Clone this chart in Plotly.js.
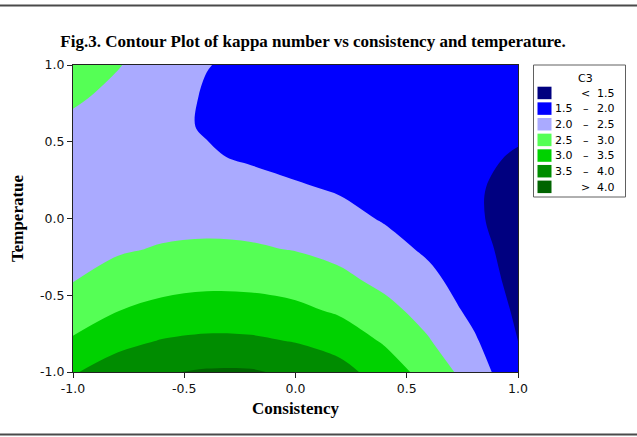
<!DOCTYPE html>
<html>
<head>
<meta charset="utf-8">
<script src="https://cdn.plot.ly/plotly-3.0.1.min.js"></script>
<style>
  html, body { margin: 0; padding: 0; background: #ffffff; }
  #chart { width: 637px; height: 437px; }
</style>
</head>
<body>
<div id="chart"></div>
<script>
// Coded factor levels
const consistency = [-1.0, -0.8, -0.6, -0.4, -0.2, 0.0, 0.2, 0.4, 0.6, 0.8, 1.0];
const temperature = [-1.0, -0.8, -0.6, -0.4, -0.2, 0.0, 0.2, 0.4, 0.6, 0.8, 1.0];

// Kappa number (C3); one row per temperature level, one column per consistency level
const kappa = [
  [3.46, 3.74, 3.96, 4.05, 4.05, 3.90, 3.67, 3.27, 2.80, 2.27, 1.61],
  [3.06, 3.36, 3.53, 3.60, 3.58, 3.48, 3.30, 2.95, 2.53, 2.07, 1.50],
  [2.73, 2.99, 3.14, 3.21, 3.20, 3.11, 2.93, 2.64, 2.32, 1.88, 1.42],
  [2.48, 2.71, 2.82, 2.875, 2.86, 2.785, 2.61, 2.38, 2.12, 1.74, 1.36],
  [2.30, 2.44, 2.54, 2.58, 2.55, 2.48, 2.36, 2.17, 1.92, 1.63, 1.35],
  [2.21, 2.30, 2.33, 2.35, 2.34, 2.27, 2.145, 1.96, 1.80, 1.55, 1.36],
  [2.19, 2.20, 2.19, 2.19, 2.14, 2.05, 1.95, 1.83, 1.72, 1.535, 1.41],
  [2.25, 2.18, 2.11, 2.04, 1.95, 1.85, 1.77, 1.71, 1.63, 1.555, 1.475],
  [2.38, 2.22, 2.09, 1.97, 1.88, 1.79, 1.72, 1.66, 1.61, 1.59, 1.55],
  [2.59, 2.37, 2.14, 1.97, 1.90, 1.82, 1.76, 1.71, 1.67, 1.65, 1.64],
  [2.82, 2.53, 2.25, 2.01, 1.93, 1.86, 1.80, 1.76, 1.73, 1.72, 1.74]
];

// Contour bands (lowest to highest) and their key labels
const bandColors = ['#000080', '#0000ff', '#aaaaff', '#55ff55', '#00d200', '#008c00', '#006400'];
const bandLow  = ['',  '1.5', '2.0', '2.5', '3.0', '3.5', ''];
const bandSign = ['<', '\u2013', '\u2013', '\u2013', '\u2013', '\u2013', '>'];
const bandHigh = ['1.5', '2.0', '2.5', '3.0', '3.5', '4.0', '4.0'];
const levelStart = 1.5, levelEnd = 4.0, levelStep = 0.5;

const axisTicks = [-1, -0.5, 0, 0.5, 1];
const axisTickText = ['-1.0', '-0.5', '0.0', '0.5', '1.0'];

// Stepped colorscale: one flat colour per band
const nBands = bandColors.length;
const colorscale = [];
bandColors.forEach((c, i) => {
  const lo = i === 0 ? 0 : (2 * i - 1) / (2 * (nBands - 1));
  const hi = i === nBands - 1 ? 1 : (2 * i + 1) / (2 * (nBands - 1));
  colorscale.push([lo, c], [hi, c]);
});

// Plot-area pixel box, used to place the key and page rules
const L = 73, R = 518, T = 65, B = 372;
const W = 637, H = 437;
const pxX = x => (x - L) / (R - L);
const pxY = y => (B - y) / (B - T);

const trace = {
  type: 'contour',
  x: consistency,
  y: temperature,
  z: kappa,
  autocontour: false,
  contours: { start: levelStart, end: levelEnd, size: levelStep, coloring: 'fill', showlines: false },
  line: { width: 0, smoothing: 1 },
  colorscale: colorscale,
  showscale: false,
  hoverinfo: 'skip'
};

const shapes = [];
const annotations = [];

// Horizontal page rules above and below the figure
[5.5, 434.5].forEach(yy => {
  shapes.push({
    type: 'line', xref: 'paper', yref: 'paper',
    x0: pxX(0), x1: pxX(W), y0: pxY(yy), y1: pxY(yy),
    line: { color: '#4a4a4a', width: 2 }
  });
});

// Key box
shapes.push({
  type: 'rect', xref: 'paper', yref: 'paper',
  x0: pxX(533.5), x1: pxX(625.5), y0: pxY(65), y1: pxY(197),
  line: { color: '#606060', width: 1 }, fillcolor: 'rgba(0,0,0,0)'
});

const keyFont = { family: 'DejaVu Sans', size: 11, color: '#000' };
annotations.push({
  xref: 'paper', yref: 'paper', x: pxX(585), y: pxY(78),
  text: 'C3', showarrow: false, xanchor: 'center', yanchor: 'middle',
  borderpad: 0, font: keyFont
});

for (let i = 0; i < nBands; i++) {
  const top = 86.7 + 15.65 * i;
  const mid = top + 6.4;
  shapes.push({
    type: 'rect', xref: 'paper', yref: 'paper',
    x0: pxX(537.5), x1: pxX(551.5), y0: pxY(top), y1: pxY(top + 12.5),
    line: { width: 0 }, fillcolor: bandColors[i]
  });
  if (bandLow[i]) {
    annotations.push({ xref: 'paper', yref: 'paper', x: pxX(574), y: pxY(mid),
      text: bandLow[i], showarrow: false, xanchor: 'right', yanchor: 'middle',
      borderpad: 0, font: keyFont });
  }
  annotations.push({ xref: 'paper', yref: 'paper', x: pxX(585.5), y: pxY(mid),
    text: bandSign[i], showarrow: false, xanchor: 'center', yanchor: 'middle',
    borderpad: 0, font: keyFont });
  annotations.push({ xref: 'paper', yref: 'paper', x: pxX(616), y: pxY(mid),
    text: bandHigh[i], showarrow: false, xanchor: 'right', yanchor: 'middle',
    borderpad: 0, font: keyFont });
}

const tickFont = { family: 'DejaVu Sans', size: 12.5, color: '#111' };
const serifBold = { family: 'Liberation Serif', size: 17, color: '#000' };

const layout = {
  width: W, height: H,
  margin: { l: L, r: W - R, t: T, b: H - B, pad: 0 },
  paper_bgcolor: '#ffffff',
  plot_bgcolor: '#ffffff',
  showlegend: false,
  title: {
    text: '<b>Fig.3. Contour Plot of kappa number vs consistency and temperature.</b>',
    font: serifBold,
    xref: 'container', x: 313 / W, xanchor: 'center',
    yref: 'container', y: 1 - 41 / H, yanchor: 'middle'
  },
  xaxis: {
    range: [-1, 1], tickvals: axisTicks, ticktext: axisTickText,
    ticks: 'outside', ticklen: 5, tickcolor: '#222', tickwidth: 1,
    showline: true, linecolor: '#222', linewidth: 1, mirror: true,
    showgrid: false, zeroline: false, tickfont: tickFont,
    title: { text: '<b>Consistency</b>', font: serifBold, standoff: 7 }
  },
  yaxis: {
    range: [-1, 1], tickvals: axisTicks, ticktext: axisTickText,
    ticks: 'outside', ticklen: 5, tickcolor: '#222', tickwidth: 1,
    showline: true, linecolor: '#222', linewidth: 1, mirror: true,
    showgrid: false, zeroline: false, tickfont: tickFont,
    title: { text: '<b>Temperatue</b>', font: serifBold, standoff: 12 }
  },
  shapes: shapes,
  annotations: annotations
};

Plotly.newPlot('chart', [trace], layout, { displayModeBar: false, staticPlot: true });
</script>
</body>
</html>
